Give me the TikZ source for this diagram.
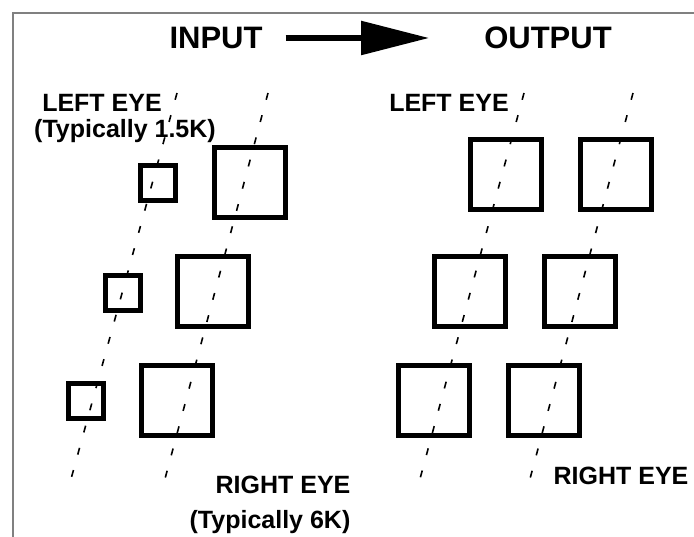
\documentclass[tikz,border=0pt]{standalone}
\usepackage{fontspec}
\setmainfont{Liberation Sans}
\usetikzlibrary{arrows.meta}

\tikzset{
	eyebox/.style={draw, line width=5pt, inner sep=0pt},
	smallbox/.style={eyebox, minimum size=35pt},
	bigbox/.style={eyebox, minimum width=71pt, minimum height=70pt},
	sightline/.style={line width=1.6pt, dash pattern=on 7pt off 16pt},
	headline/.style={font=\fontsize{31}{36}\selectfont\bfseries, inner sep=0pt},
	eyelabel/.style={font=\fontsize{25}{30}\selectfont\bfseries, inner sep=0pt}
}

\begin{document}
\begin{tikzpicture}[x=1pt,y=-1pt]
	\useasboundingbox (0,0) rectangle (694,537);

	% Frame
	\draw[gray, line width=2pt] (694,13) -- (13,13) -- (13,537);

	% Heading
	\node[headline] (inhead) at (216,38) {INPUT};
	\node[headline] (outhead) at (548,38) {OUTPUT};
	\draw[line width=5.5pt, -{Triangle[length=68pt,width=33pt]}, shorten <=23pt, shorten >=55pt] (inhead.east) -- (outhead.west);

	% Labels
	%Input
	\node[eyelabel] (inleft) at (102,103) {LEFT EYE};
	\node[eyelabel] (inleftk) at (125,131) {(Typically 1.5K)};
	\node[eyelabel] (inright) at (283,485) {RIGHT EYE};
	\node[eyelabel] (inrightk) at (270,522) {(Typically 6K)};
	%Output
	\node[eyelabel] (outleft) at (449,103) {LEFT EYE};
	\node[eyelabel] (outright) at (621,476) {RIGHT EYE};

	% Lines of sight
	%Input
	\coordinate (ina) at (177,93);
	\coordinate (inb) at (68,490);
	\coordinate (inc) at (268,93);
	\coordinate (ind) at (162,490);
	\draw[sightline] (ina) -- (inb);
	\draw[sightline] (inc) -- (ind);
	%Output
	\coordinate (outa) at (524,93);
	\coordinate (outb) at (417,490);
	\coordinate (outc) at (633,93);
	\coordinate (outd) at (527,490);
	\draw[sightline] (outa) -- (outb);
	\draw[sightline] (outc) -- (outd);

	% Input boxes
	%Left eye, small
	\node[smallbox] (insmalla) at (158,183) {};
	\node[smallbox] (insmallb) at (123,293) {};
	\node[smallbox] (insmallc) at (86,401) {};
	%Right eye, large
	\node[bigbox] (inbiga) at (250,183) {};
	\node[bigbox] (inbigb) at (213,292) {};
	\node[bigbox] (inbigc) at (177,401) {};

	% Output boxes
	%Left eye
	\node[bigbox] (outlefta) at (506,175) {};
	\node[bigbox] (outleftb) at (470,292) {};
	\node[bigbox] (outleftc) at (434,401) {};
	%Right eye
	\node[bigbox] (outrighta) at (616,175) {};
	\node[bigbox] (outrightb) at (580,292) {};
	\node[bigbox] (outrightc) at (544,401) {};

\end{tikzpicture}
\end{document}
